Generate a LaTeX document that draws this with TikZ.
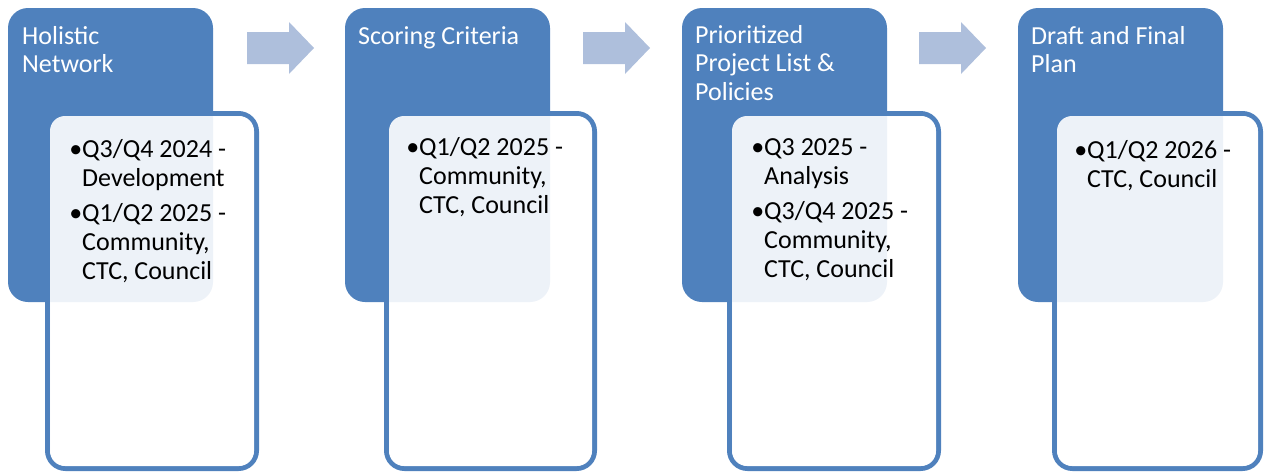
\documentclass[tikz,border=0pt]{standalone}
\usepackage{fontspec}
\setmainfont{Carlito}
\usetikzlibrary{positioning}
\definecolor{stageblue}{RGB}{79,129,189}
\definecolor{arrowblue}{RGB}{174,191,220}

\begin{document}
\begin{tikzpicture}[x=1pt, y=-1pt,
    stage/.style={fill=stageblue, rounded corners=20pt},
    panel/.style={draw=stageblue, line width=5pt, fill=white, rounded corners=18pt},
    veil/.style={fill=white, fill opacity=0.9, rounded corners=15pt},
    flow/.style={fill=arrowblue},
    title/.style={anchor=base west, inner sep=0pt, align=left, text=white,
                  font=\fontsize{26}{28.5}\selectfont},
    items/.style={anchor=base west, inner sep=0pt, align=left,
                  font=\fontsize{26}{29}\selectfont}]
    \useasboundingbox (0,0) rectangle (1264,472);

    % arrows between the stages
    \foreach \ax in {247,583,919}
        \fill[flow] (\ax,32) -- (\ax+42,32) -- (\ax+42,22) -- (\ax+67,48)
            -- (\ax+42,74) -- (\ax+42,64) -- (\ax,64) -- cycle;

    % panel, header on top of it, then the light tint of the panel
    \foreach \hx/\pl/\pr in {8/45/259, 345/384/597, 682/727/941, 1018/1052/1263} {
        \draw[panel] (\pl+2.5,113.5) rectangle (\pr-2.5,468.5);
        \fill[stage] (\hx,8) rectangle (\hx+205,302);
        \fill[veil] (\pl+5,116) rectangle (\pr-5,466);
    }

    % stage titles (placed at the baseline of their last line)
    \node[title] (head1) at (22,72.5) {Holistic\\Network};
    \node[title] (head2) at (358,44) {Scoring Criteria};
    \node[title] (head3) at (695,100) {Prioritized\\Project List \&\\Policies};
    \node[title] (head4) at (1031,72.5) {Draft and Final\\Plan};

    % timing of each stage
    \node[items] (list1) at (82,279)
        {\llap{•}Q3/Q4 2024 -\\Development\\[6pt]\llap{•}Q1/Q2 2025 -\\Community,\\CTC, Council};
    \node[items] (list2) at (419,213)
        {\llap{•}Q1/Q2 2025 -\\Community,\\CTC, Council};
    \node[items] (list3) at (764,277)
        {\llap{•}Q3 2025 -\\Analysis\\[6pt]\llap{•}Q3/Q4 2025 -\\Community,\\CTC, Council};
    \node[items] (list4) at (1087,187)
        {\llap{•}Q1/Q2 2026 -\\CTC, Council};
\end{tikzpicture}
\end{document}
